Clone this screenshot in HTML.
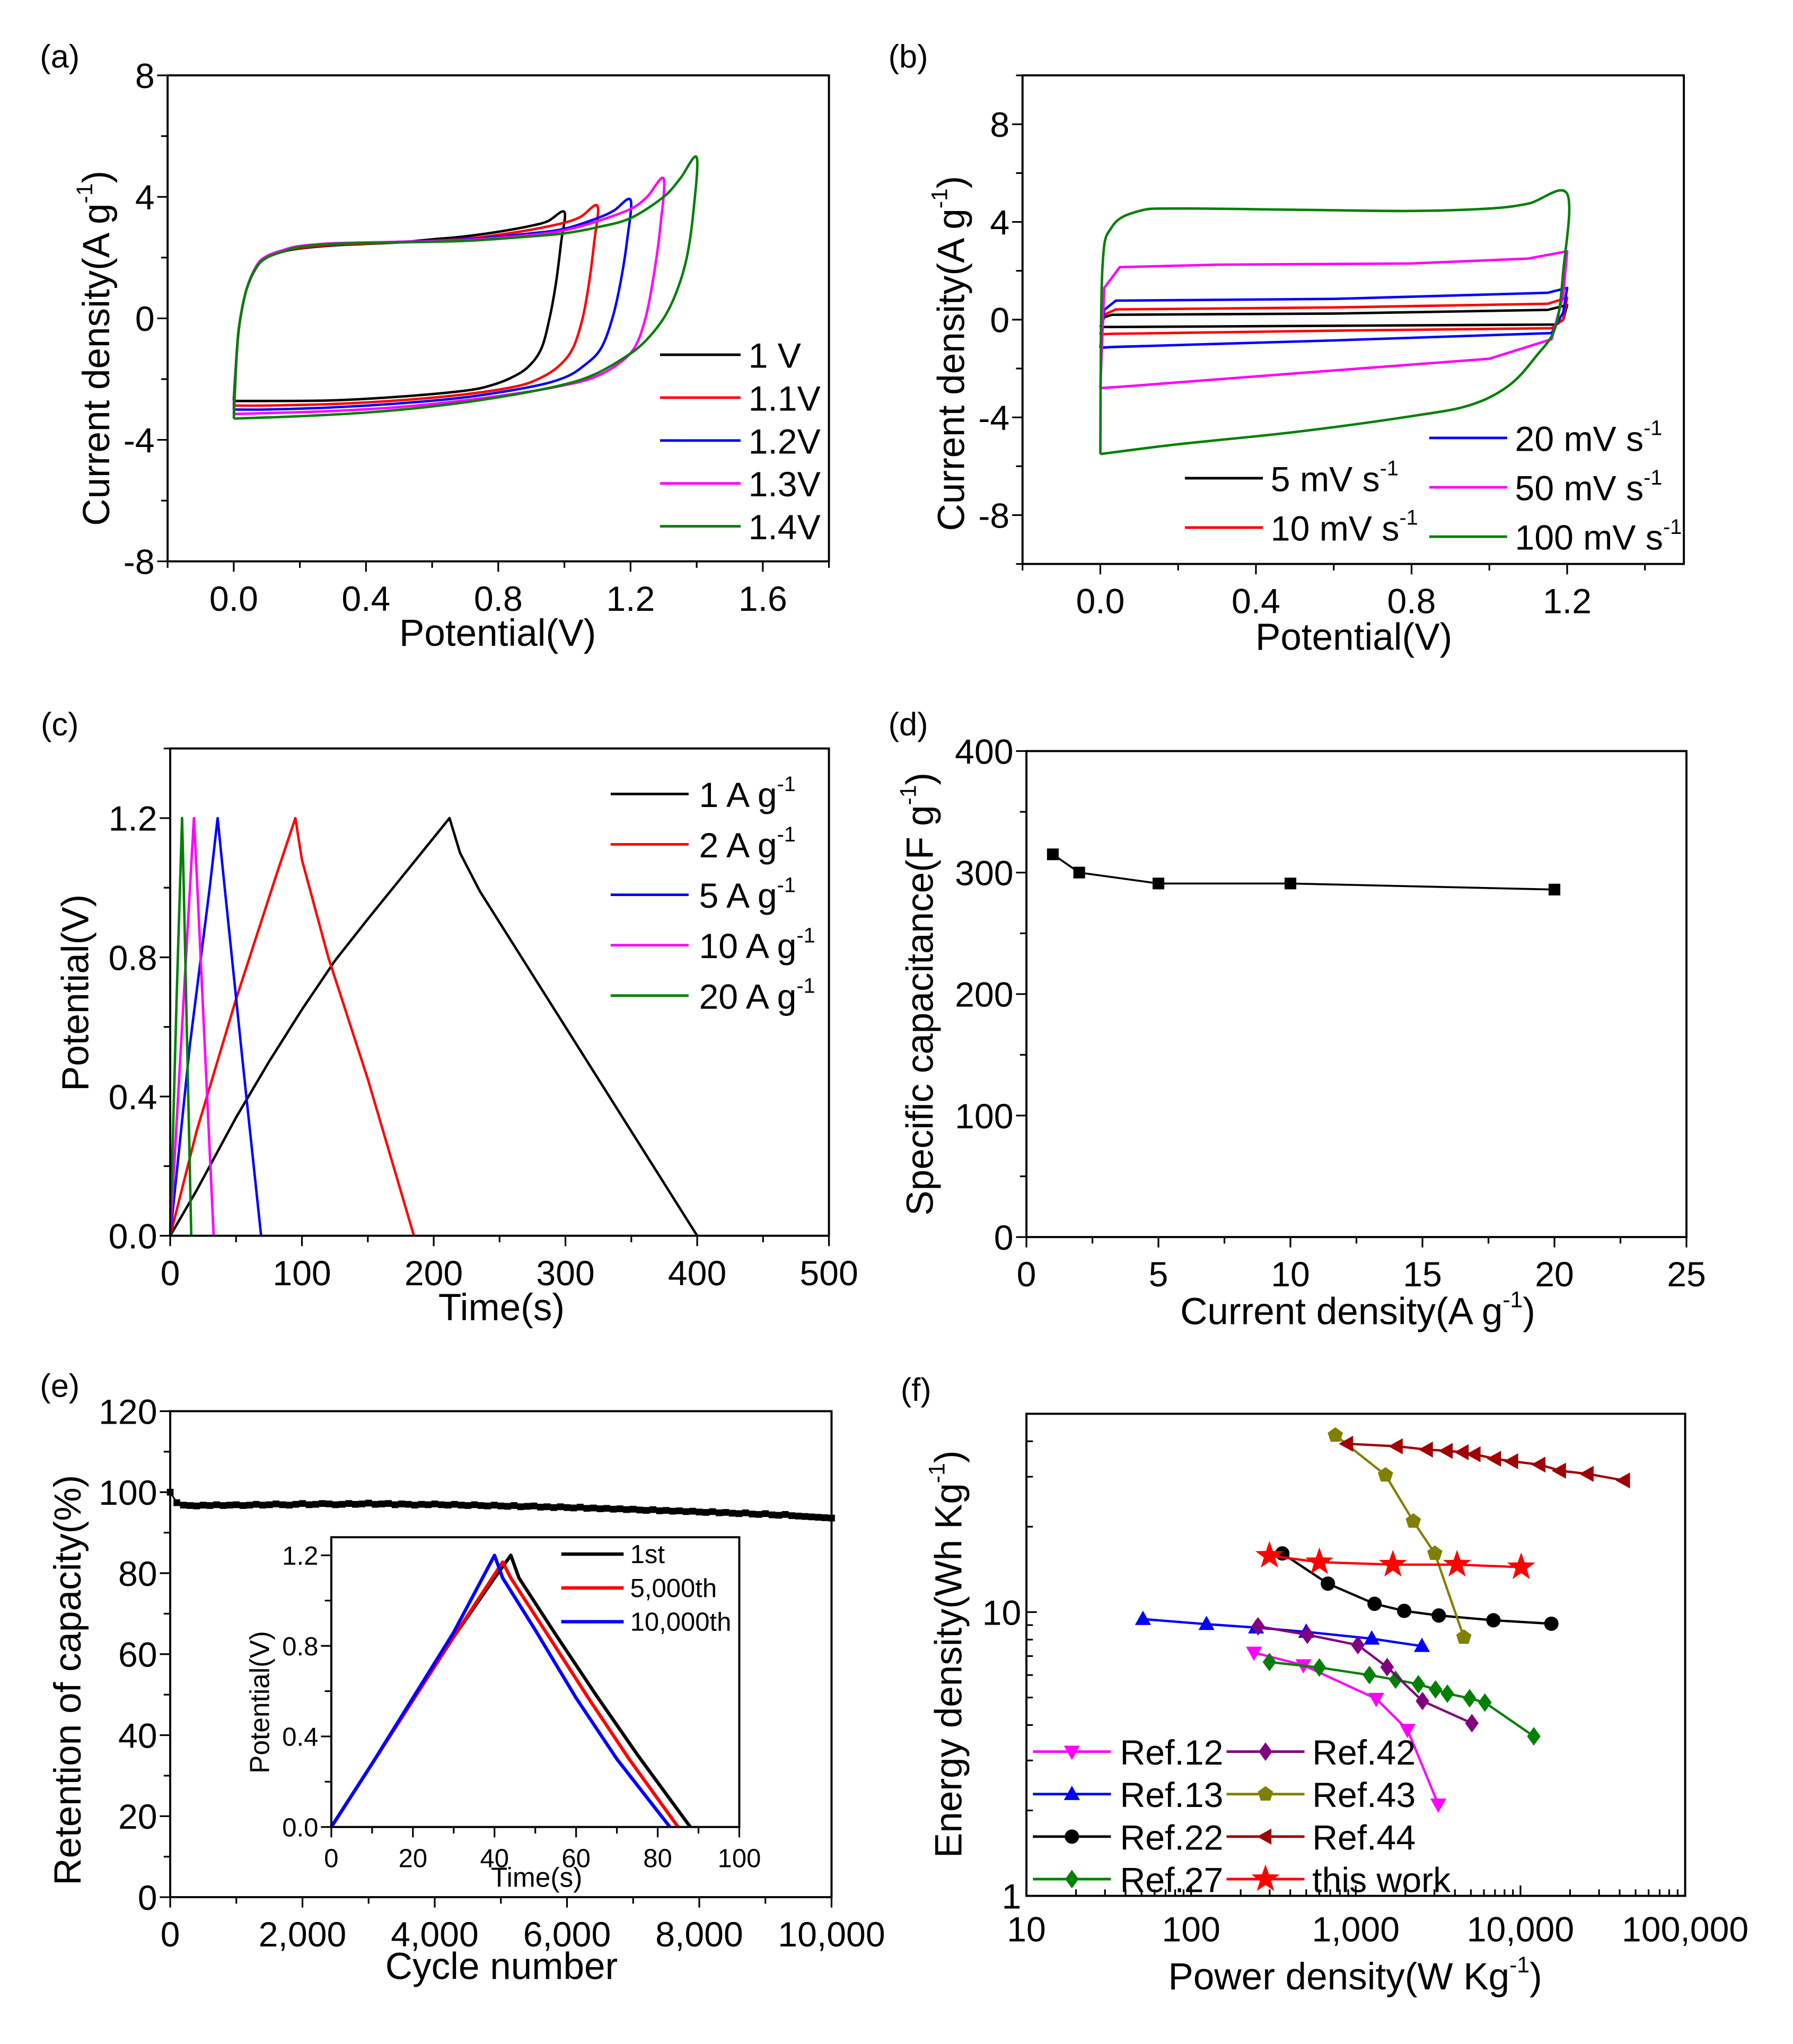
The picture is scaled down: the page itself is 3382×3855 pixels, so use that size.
<!DOCTYPE html>
<html><head><meta charset="utf-8"><style>
html,body{margin:0;padding:0;background:#fff;}
svg{display:block;font-family:"Liberation Sans",Arial,sans-serif;}
</style></head><body>
<svg id="fig" xmlns="http://www.w3.org/2000/svg" width="3382" height="3855" viewBox="0 0 1380 1573"></svg>
<script>
// ---------- DATA ----------
const aNames=["1 V","1.1V","1.2V","1.3V","1.4V"];
const aColors=["#000","#f00","#00f","#f0f","#008000"];
const aData=[
 [[0,-2.7],[0.01,-1],[0.02,0],[0.04,1.0],[0.07,1.7],[0.1,2.0],[0.15,2.2],[0.2,2.3],[0.3,2.4],[0.4,2.45],[0.5,2.5],[0.6,2.6],[0.7,2.7],[0.8,2.85],[0.9,3.05],[0.95,3.2],[1.0,3.5],[0.99,2.5],[0.975,1.2],[0.955,0],[0.93,-1.0],[0.89,-1.6],[0.84,-1.95],[0.78,-2.2],[0.7,-2.38],[0.5,-2.58],[0.3,-2.7],[0.1,-2.72],[0,-2.72]],
 [[0,-2.85],[0.01,-1],[0.02,0],[0.04,1.0],[0.07,1.7],[0.1,2.0],[0.15,2.22],[0.2,2.32],[0.3,2.42],[0.5,2.5],[0.7,2.62],[0.8,2.75],[0.9,2.92],[1.0,3.15],[1.05,3.35],[1.1,3.7],[1.09,2.5],[1.075,1.2],[1.055,0],[1.025,-1.0],[0.98,-1.6],[0.92,-2.0],[0.85,-2.25],[0.7,-2.5],[0.5,-2.7],[0.3,-2.82],[0.1,-2.87],[0,-2.87]],
 [[0,-3.0],[0.01,-1],[0.02,0],[0.04,1.0],[0.07,1.7],[0.1,2.0],[0.15,2.22],[0.2,2.35],[0.3,2.45],[0.5,2.52],[0.7,2.6],[0.9,2.8],[1.0,2.95],[1.1,3.3],[1.15,3.55],[1.2,3.9],[1.19,2.6],[1.17,1.2],[1.145,0],[1.11,-1.0],[1.06,-1.55],[1.0,-1.95],[0.9,-2.25],[0.7,-2.6],[0.5,-2.8],[0.3,-2.93],[0.1,-3.0],[0,-3.0]],
 [[0,-3.15],[0.01,-1],[0.02,0],[0.04,1.0],[0.07,1.75],[0.1,2.05],[0.15,2.25],[0.2,2.38],[0.3,2.47],[0.5,2.52],[0.7,2.58],[0.9,2.75],[1.0,2.9],[1.1,3.2],[1.2,3.6],[1.25,4.0],[1.3,4.6],[1.29,3.0],[1.27,1.4],[1.245,0],[1.21,-1.0],[1.15,-1.6],[1.08,-1.98],[1.0,-2.2],[0.9,-2.4],[0.7,-2.7],[0.5,-2.92],[0.3,-3.05],[0.1,-3.12],[0,-3.15]],
 [[0,-3.3],[0.01,-1],[0.02,0],[0.04,1.0],[0.07,1.7],[0.1,2.0],[0.15,2.2],[0.2,2.35],[0.3,2.45],[0.5,2.5],[0.7,2.55],[0.9,2.7],[1.0,2.8],[1.1,3.0],[1.2,3.3],[1.3,4.0],[1.35,4.6],[1.4,5.3],[1.39,3.5],[1.37,2.0],[1.34,0.9],[1.3,0],[1.24,-0.8],[1.18,-1.3],[1.09,-1.85],[0.99,-2.2],[0.8,-2.6],[0.6,-2.9],[0.4,-3.1],[0.2,-3.22],[0,-3.3]]
];
const bNames=["5 mV s","10 mV s","20 mV s","50 mV s","100 mV s"];
const bColors=["#000","#f00","#00f","#f0f","#008000"];
const bData=[
 [[0,-0.3],[0.01,0.1],[0.03,0.2],[0.6,0.25],[1.15,0.4],[1.2,0.6],[1.19,0],[1.17,-0.2],[0.6,-0.25],[0.03,-0.3],[0,-0.3]],
 [[0,-0.6],[0.01,0.2],[0.04,0.42],[0.6,0.5],[1.15,0.65],[1.2,0.9],[1.19,0],[1.16,-0.35],[0.6,-0.45],[0.03,-0.58],[0,-0.6]],
 [[0,-1.15],[0.01,0.4],[0.04,0.78],[0.6,0.85],[1.15,1.1],[1.2,1.3],[1.19,0.3],[1.16,-0.55],[0.6,-0.85],[0.03,-1.12],[0,-1.15]],
 [[0,-2.8],[0.01,1.3],[0.05,2.15],[0.3,2.25],[0.8,2.3],[1.1,2.5],[1.2,2.8],[1.19,1],[1.16,-0.8],[1.0,-1.6],[0.5,-2.2],[0.05,-2.75],[0,-2.8]],
 [[0,-5.5],[0.005,2],[0.03,3.8],[0.1,4.45],[0.2,4.55],[0.5,4.5],[0.8,4.45],[1.0,4.55],[1.1,4.75],[1.2,5.15],[1.19,2],[1.17,-0.3],[1.12,-1.5],[1.05,-2.7],[0.95,-3.5],[0.8,-3.95],[0.5,-4.6],[0.2,-5.1],[0,-5.5]]
];
const cNames=["1 A g","2 A g","5 A g","10 A g","20 A g"];
const cColors=["#000","#f00","#00f","#f0f","#008000"];
const cData=[
 [[0,0],[20,0.13],[50,0.34],[75,0.5],[100,0.65],[125,0.79],[150,0.91],[180,1.05],[212,1.2],[220,1.1],[235,0.99],[250,0.9],[275,0.75],[300,0.6],[325,0.45],[350,0.3],[375,0.15],[400,0]],
 [[0,0],[20,0.3],[50,0.68],[80,1.03],[95,1.2],[100,1.08],[120,0.8],[150,0.45],[185,0]],
 [[0,0],[15,0.55],[30,1.0],[36,1.2],[40,1.05],[55,0.5],[69,0]],
 [[0,0],[9,0.6],[18,1.2],[20,1.05],[33,0]],
 [[0,0],[5,0.7],[9,1.2],[10,1.05],[16,0]]
];
const dX=[1,2,5,10,20];
const dY=[315,300,291,291,286];
const eY=[100,97.4,96.8,96.7,96.6,96.8,96.7,96.9,96.7,96.8,96.9,96.7,96.8,97.0,96.8,96.9,97.1,96.9,96.8,97.0,
 97.2,96.9,97.0,97.2,97.1,96.9,97.0,97.2,97.0,97.1,97.3,97.0,97.1,97.2,96.9,97.1,97.0,96.8,97.0,96.9,
 97.1,96.9,96.8,97.0,96.8,96.7,96.9,96.7,96.6,96.8,96.6,96.5,96.7,96.4,96.5,96.6,96.3,96.4,96.2,96.4,
 96.2,96.1,96.3,96.0,96.1,95.9,96.0,95.8,95.9,95.7,95.8,95.6,95.5,95.7,95.4,95.5,95.3,95.4,95.2,95.3,
 95.1,95.0,95.2,94.9,95.0,94.8,94.7,94.9,94.6,94.5,94.7,94.4,94.3,94.5,94.2,94.1,94.0,93.9,93.8,93.7,93.6];
const eStep=100;
const iNames=["1st","5,000th","10,000th"];
const iColors=["#000","#f00","#00f"];
const iData=[
 [[0,0],[10,0.28],[20,0.56],[30,0.84],[40,1.1],[44,1.2],[46,1.1],[55,0.85],[65,0.58],[75,0.32],[88,0]],
 [[0,0],[10,0.28],[20,0.56],[30,0.84],[42,1.17],[44,1.1],[53,0.85],[63,0.57],[73,0.3],[85,0]],
 [[0,0],[10,0.28],[20,0.57],[30,0.86],[40,1.2],[42,1.1],[50,0.87],[60,0.57],[70,0.3],[83,0]]
];
const fNames=["Ref.12","Ref.13","Ref.22","Ref.27","Ref.42","Ref.43","Ref.44","this work"];
const fColors=["#f0f","#00f","#000","#008000","#800080","#808000","#a00000","#f00"];
const fMarkers=["tridown","triup","circle","diamond","diamond","pentagon","trileft","star"];
const fP=[
 [241,481,1330,2060,3170],
 [51,124,248,500,1250,2520],
 [358,677,1300,1967,3190,6850,15400],
 [299,601,1210,1745,2400,3050,3600,4910,6080,12050],
 [255,508,1030,1550,2540,5070],
 [751,1515,2235,3020,4530],
 [887,1775,2705,3570,4460,5270,7020,8910,13060,17400,25600,42600],
 [299,601,1680,4120,10100]];
const fE=[
 [7.2,6.5,4.95,3.85,2.1],
 [9.45,9.07,8.82,8.52,8.06,7.59],
 [16.1,12.6,10.7,10.1,9.73,9.36,9.1],
 [6.67,6.38,6.0,5.78,5.57,5.34,5.16,4.97,4.8,3.65],
 [8.91,8.32,7.65,6.4,4.86,4.06],
 [42,30.4,20.9,16.1,8.15],
 [39.2,38.4,37.4,37.0,36.6,36.0,34.7,34.0,33.1,31.5,30.7,29.1],
 [15.8,15.0,14.7,14.7,14.4]];

// ---------- HELPERS ----------
const NS="http://www.w3.org/2000/svg";
const svg=document.getElementById('fig');
function el(tag,attrs,parent,text){const e=document.createElementNS(NS,tag);for(const k in attrs)e.setAttribute(k,attrs[k]);if(text!==undefined)e.textContent=text;(parent||svg).appendChild(e);return e;}
function lin(d0,d1,r0,r1){return v=>r0+(v-d0)*(r1-r0)/(d1-d0);}
function lg(d0,d1,r0,r1){return v=>r0+(Math.log10(v)-Math.log10(d0))*(r1-r0)/(Math.log10(d1)-Math.log10(d0));}
function grp(name){const g=el('g',{});return g;}
function txt(g,x,y,s,size,anchor,name,rot){const t=el('text',{x:x,y:y,'font-size':size,'text-anchor':anchor||'middle',fill:'#000'},g,s);if(rot)t.setAttribute('transform','rotate(-90 '+x+' '+y+')');return t;}
function supTxt(g,x,y,pre,sup,post,size,anchor,name,rot){
 const t=el('text',{x:x,y:y,'font-size':size,'text-anchor':anchor||'middle',fill:'#000'},g);
 el('tspan',{},t,pre);el('tspan',{'font-size':size*0.6,dy:-size*0.45},t,sup);
 if(post)el('tspan',{'font-size':size,dy:size*0.45},t,post);
 if(rot)t.setAttribute('transform','rotate(-90 '+x+' '+y+')');
 return t;}
function box(g,x0,y0,x1,y1){const r=el('rect',{x:x0,y:y0,width:x1-x0,height:y1-y0,fill:'none',stroke:'#000','stroke-width':1.6},g);}
function xTicks(g,sx,yb,major,minor,labels,fs,inward){const d=inward?-1:1;
 minor.forEach(v=>el('line',{x1:sx(v),x2:sx(v),y1:yb,y2:yb+d*5,stroke:'#000','stroke-width':1.3},g));
 major.forEach((v,i)=>{el('line',{x1:sx(v),x2:sx(v),y1:yb,y2:yb+d*8,stroke:'#000','stroke-width':1.3},g);
  if(labels[i]!=null)txt(g,sx(v),yb+fs+(inward?8:11),labels[i],fs,'middle','x-tick-label');});}
function yTicks(g,sy,xl,major,minor,labels,fs,inward){const d=inward?1:-1;
 minor.forEach(v=>el('line',{x1:xl,x2:xl+d*5,y1:sy(v),y2:sy(v),stroke:'#000','stroke-width':1.3},g));
 major.forEach((v,i)=>{el('line',{x1:xl,x2:xl+d*8,y1:sy(v),y2:sy(v),stroke:'#000','stroke-width':1.3},g);
  if(labels[i]!=null)txt(g,xl-(inward?4:10),sy(v)+fs*0.36,labels[i],fs,'end','y-tick-label');});}
function poly(g,pts,sx,sy,color,w,name,smooth){
 const P=pts.map(q=>[sx(q[0]),sy(q[1])]);let d='M'+P[0][0].toFixed(2)+','+P[0][1].toFixed(2);
 if(smooth){for(let i=0;i<P.length-1;i++){const p0=P[Math.max(0,i-1)],p1=P[i],p2=P[i+1],p3=P[Math.min(P.length-1,i+2)];
   const c1=[p1[0]+(p2[0]-p0[0])/6,p1[1]+(p2[1]-p0[1])/6],c2=[p2[0]-(p3[0]-p1[0])/6,p2[1]-(p3[1]-p1[1])/6];
   d+=' C'+c1[0].toFixed(2)+','+c1[1].toFixed(2)+' '+c2[0].toFixed(2)+','+c2[1].toFixed(2)+' '+p2[0].toFixed(2)+','+p2[1].toFixed(2);}}
 else P.slice(1).forEach(p=>d+=' L'+p[0].toFixed(2)+','+p[1].toFixed(2));
 const p=el('path',{d:d,fill:'none',stroke:color,'stroke-width':w||1.8,'stroke-linejoin':'round'},g);return p;}
function legLine(g,x0,x1,y,color,w){const l=el('line',{x1:x0,x2:x1,y1:y,y2:y,stroke:color,'stroke-width':w||2},g);}
const FS=27, TS=29, PL=25;

// ---------- (a) ----------
(function(){const g=grp('panel-a');
 const sx=lin(-0.2,1.8,129,638), sy=lin(-8,8,432,58);
 txt(g,46,52,'(a)',PL,'middle','panel-label-a');
 aData.forEach((d,i)=>poly(g,d,sx,sy,aColors[i],1.9,'cv-curve-'+i,true));
 box(g,129,58,638,432);
 xTicks(g,sx,432,[0,0.4,0.8,1.2,1.6],[-0.2,0.2,0.6,1.0,1.4,1.8],['0.0','0.4','0.8','1.2','1.6'],FS);
 yTicks(g,sy,129,[-8,-4,0,4,8],[-6,-2,2,6],['-8','-4','0','4','8'],FS);
 txt(g,383,497,'Potential(V)',TS,'middle','x-axis-title');
 supTxt(g,84,268,'Current density(A g','-1',')',TS,'middle','y-axis-title',true);
 aNames.forEach((n,i)=>{const y=273+i*33;legLine(g,508,570,y,aColors[i]);txt(g,576,y+10,n,FS,'start','legend-entry');});
})();

// ---------- (b) ----------
(function(){const g=grp('panel-b');
 const sx=lin(-0.2,1.5,787,1296), sy=lin(-10,10,434,58);
 txt(g,699,52,'(b)',PL,'middle','panel-label-b');
 bData.forEach((d,i)=>poly(g,d,sx,sy,bColors[i],1.9,'cv-rate-curve-'+i,i===4));
 box(g,787,58,1296,434);
 xTicks(g,sx,434,[0,0.4,0.8,1.2],[-0.2,0.2,0.6,1.0,1.4],['0.0','0.4','0.8','1.2'],FS);
 yTicks(g,sy,787,[-8,-4,0,4,8],[-10,-6,-2,2,6,10],['-8','-4','0','4','8'],FS);
 txt(g,1042,500,'Potential(V)',TS,'middle','x-axis-title');
 supTxt(g,742,272,'Current density(A g','-1',')',TS,'middle','y-axis-title',true);
 const leg=[[912,368],[912,406],[1100,337],[1100,375],[1100,413]];
 bNames.forEach((n,i)=>{const [x,y]=leg[i];legLine(g,x,x+60,y,bColors[i]);supTxt(g,x+66,y+10,n,'-1',null,FS,'start','legend-entry');});
})();

// ---------- (c) ----------
(function(){const g=grp('panel-c');
 const sx=lin(0,500,131,638), sy=lin(0,1.4,951,576);
 txt(g,46,566,'(c)',PL,'middle','panel-label-c');
 cData.forEach((d,i)=>poly(g,d,sx,sy,cColors[i],1.9,'gcd-curve-'+i));
 box(g,131,576,638,951);
 xTicks(g,sx,951,[0,100,200,300,400,500],[50,150,250,350,450],['0','100','200','300','400','500'],FS);
 yTicks(g,sy,131,[0,0.4,0.8,1.2],[0.2,0.6,1.0,1.4],['0.0','0.4','0.8','1.2'],FS);
 txt(g,386,1016,'Time(s)',TS,'middle','x-axis-title');
 txt(g,68,764,'Potential(V)',TS,'middle','y-axis-title',true);
 cNames.forEach((n,i)=>{const y=611+i*38.8;legLine(g,470,530,y,cColors[i]);supTxt(g,538,y+10,n,'-1',null,FS,'start','legend-entry');});
})();

// ---------- (d) ----------
(function(){const g=grp('panel-d');
 const sx=lin(0,25,790,1298), sy=lin(0,400,952,578);
 txt(g,699,566,'(d)',PL,'middle','panel-label-d');
 poly(g,dX.map((x,i)=>[x,dY[i]]),sx,sy,'#000',1.5,'capacitance-line');
 dX.forEach((x,i)=>{const r=el('rect',{x:sx(x)-4.5,y:sy(dY[i])-4.5,width:9,height:9,fill:'#000'},g);});
 box(g,790,578,1298,952);
 xTicks(g,sx,952,[0,5,10,15,20,25],[2.5,7.5,12.5,17.5,22.5],['0','5','10','15','20','25'],FS);
 yTicks(g,sy,790,[0,100,200,300,400],[50,150,250,350],['0','100','200','300','400'],FS);
 supTxt(g,1045,1019,'Current density(A g','-1',')',TS,'middle','x-axis-title');
 supTxt(g,718,765,'Specific capacitance(F g','-1',')',TS,'middle','y-axis-title',true);
})();

// ---------- (e) ----------
(function(){const g=grp('panel-e');
 const sx=lin(0,10000,131,640), sy=lin(0,120,1460,1086);
 txt(g,46,1075,'(e)',PL,'middle','panel-label-e');
 const pts=eY.map((v,i)=>[i*eStep,v]);
 poly(g,pts,sx,sy,'#000',1.2,'retention-line');
 pts.forEach(p=>{const r=el('rect',{x:sx(p[0])-2.6,y:sy(p[1])-2.6,width:5.2,height:5.2,fill:'#000'},g);});
 box(g,131,1086,640,1460);
 xTicks(g,sx,1460,[0,2000,4000,6000,8000,10000],[1000,3000,5000,7000,9000],['0','2,000','4,000','6,000','8,000','10,000'],FS);
 yTicks(g,sy,131,[0,20,40,60,80,100,120],[10,30,50,70,90,110],['0','20','40','60','80','100','120'],FS);
 txt(g,386,1523,'Cycle number',TS,'middle','x-axis-title');
 txt(g,62,1293,'Retention of capacity(%)',TS,'middle','y-axis-title',true);
 const ig=grp('inset-gcd');g.appendChild(ig);
 const ix=lin(0,100,255,569), iy=lin(0,1.28,1406,1183);
 el('rect',{x:255,y:1183,width:314,height:223,fill:'#fff'},ig);
 iData.forEach((d,i)=>poly(ig,d,ix,iy,iColors[i],2.6,'inset-curve-'+i));
 box(ig,255,1183,569,1406);
 xTicks(ig,ix,1406,[0,20,40,60,80,100],[10,30,50,70,90],['0','20','40','60','80','100'],20);
 yTicks(ig,iy,255,[0,0.4,0.8,1.2],[0.2,0.6,1.0],['0.0','0.4','0.8','1.2'],20);
 txt(ig,413,1452,'Time(s)',21,'middle','inset-x-title');
 txt(ig,207,1310,'Potential(V)',21,'middle','inset-y-title',true);
 iNames.forEach((n,i)=>{const y=1196+i*26;legLine(ig,432,480,y,iColors[i],2.6);txt(ig,485,y+7,n,20,'start','inset-legend-entry');});
})();

// ---------- (f) ----------
function marker(g,type,x,y,color,s){let e;
 if(type==='circle')e=el('circle',{cx:x,cy:y,r:s*0.85,fill:color},g);
 else{let p;
  if(type==='triup')p=[[0,-1],[0.95,0.7],[-0.95,0.7]];
  else if(type==='tridown')p=[[0,1],[0.95,-0.7],[-0.95,-0.7]];
  else if(type==='trileft')p=[[-1,0],[0.7,-0.95],[0.7,0.95]];
  else if(type==='diamond')p=[[0,-1.1],[0.8,0],[0,1.1],[-0.8,0]];
  else if(type==='pentagon'){p=[];for(let k=0;k<5;k++){const a=-Math.PI/2+k*2*Math.PI/5;p.push([Math.cos(a)*0.95,Math.sin(a)*0.95]);}}
  else if(type==='star'){p=[];for(let k=0;k<10;k++){const a=-Math.PI/2+k*Math.PI/5,r=k%2?0.7:1.75;p.push([Math.cos(a)*r,Math.sin(a)*r]);}}
  e=el('polygon',{points:p.map(q=>(x+q[0]*s).toFixed(2)+','+(y+q[1]*s).toFixed(2)).join(' '),fill:color},g);}
 
 }
(function(){const g=grp('panel-f');
 const sx=lg(10,100000,790,1297), sy=lg(1,50,1459,1088);
 txt(g,705,1078,'(f)',PL,'middle','panel-label-f');
 fP.forEach((xs,i)=>{const sg=grp('series-'+fNames[i].toLowerCase().replace(/[ .]/g,'-'));g.appendChild(sg);
  poly(sg,xs.map((x,j)=>[x,fE[i][j]]),sx,sy,fColors[i],1.8,'ragone-line');
  xs.forEach((x,j)=>marker(sg,fMarkers[i],sx(x),sy(fE[i][j]),fColors[i],6.5));});
 box(g,790,1088,1297,1459);
 const xmin=[];[10,100,1000,10000].forEach(d=>{for(let k=2;k<=9;k++)xmin.push(d*k);});
 xTicks(g,sx,1459,[10,100,1000,10000,100000],xmin,['10','100','1,000','10,000','100,000'],FS,true);
 const ymin=[2,3,4,5,6,7,8,9,20,30,40,50];
 yTicks(g,sy,790,[1,10],ymin,['1','10'],FS,true);
 supTxt(g,1043,1531,'Power density(W Kg','-1',')',TS,'middle','x-axis-title');
 supTxt(g,740,1273,'Energy density(Wh Kg','-1',')',TS,'middle','y-axis-title',true);
 fNames.forEach((n,i)=>{const col=i<4?0:1,row=i%4;const x0=col?944:795,y=1348+row*32.7;
  legLine(g,x0,x0+60,y,fColors[i]);marker(g,fMarkers[i],x0+30,y,fColors[i],6.5);
  txt(g,col?1010:862,y+10,n,FS,'start','legend-entry');});
})();
</script>
</body></html>
